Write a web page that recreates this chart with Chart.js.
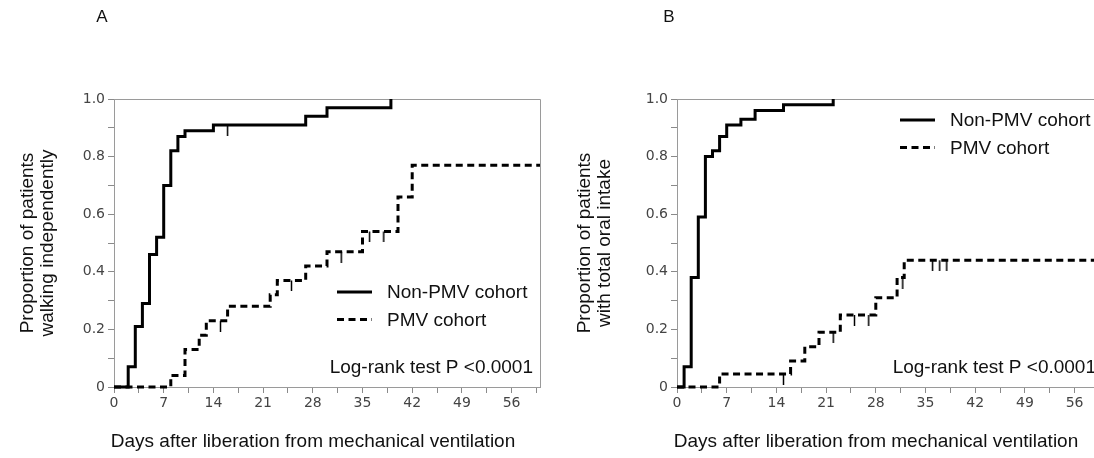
<!DOCTYPE html>
<html>
<head>
<meta charset="utf-8">
<script src="https://cdn.jsdelivr.net/npm/chart.js@4.4.1/dist/chart.umd.min.js"></script>
<style>
  html, body { margin: 0; padding: 0; background: #fff; overflow: hidden; }
  body { width: 1094px; height: 458px; position: relative; }
  canvas { position: absolute; top: 0; }
  #chartA { left: 0; }
  #chartB { left: 563px; }
</style>
</head>
<body>
<canvas id="chartA" width="547" height="458"></canvas>
<canvas id="chartB" width="547" height="458"></canvas>
<script>
// Panel A: walking independently
const aNonDays = [0, 2, 3, 4, 5, 6, 7, 8, 9, 10, 14, 27, 30, 39];
const aNonProp = [0, 0.07, 0.21, 0.29, 0.46, 0.52, 0.70, 0.82, 0.87, 0.89, 0.91, 0.94, 0.97, 1.0];
const aNonCensDays = [16];
const aNonCensProp = [0.91];
const aPmvDays = [0, 8, 10, 12, 13, 16, 22, 23, 27, 30, 35, 40, 42, 60];
const aPmvProp = [0, 0.04, 0.13, 0.18, 0.23, 0.28, 0.32, 0.37, 0.42, 0.47, 0.54, 0.66, 0.77, 0.77];
const aPmvCensDays = [15, 25, 32, 36, 38];
const aPmvCensProp = [0.23, 0.37, 0.47, 0.54, 0.54];

// Panel B: total oral intake
const bNonDays = [0, 1, 2, 3, 4, 5, 6, 7, 9, 11, 15, 22];
const bNonProp = [0, 0.07, 0.38, 0.59, 0.80, 0.82, 0.87, 0.91, 0.93, 0.96, 0.98, 1.0];
const bNonCensDays = [];
const bNonCensProp = [];
const bPmvDays = [0, 6, 16, 18, 20, 23, 28, 31, 32, 60];
const bPmvProp = [0, 0.045, 0.09, 0.14, 0.19, 0.25, 0.31, 0.38, 0.44, 0.44];
const bPmvCensDays = [15, 22, 25, 27, 31.8, 36, 37, 38];
const bPmvCensProp = [0.045, 0.19, 0.25, 0.25, 0.38, 0.44, 0.44, 0.44];

const seriesNames = ['Non-PMV cohort', 'PMV cohort'];
const xTitle = 'Days after liberation from mechanical ventilation';
const logRank = 'Log-rank test P <0.0001';

const SANS = '"Liberation Sans", Arial, sans-serif';
const PMV_DASH = [7, 4.5];

// small vertical tick used as censor mark, hangs below the point
const censorMark = document.createElement('canvas');
censorMark.width = 3;
censorMark.height = 22;
{
  const c = censorMark.getContext('2d');
  c.strokeStyle = '#000';
  c.lineWidth = 1.5;
  c.beginPath();
  c.moveTo(1.5, 11);
  c.lineTo(1.5, 22);
  c.stroke();
}

function pts(days, props) {
  return days.map((d, i) => ({x: d, y: props[i]}));
}

// frame, panel letter, x title, legend and log-rank text
const kmDecor = {
  id: 'kmDecor',
  beforeDatasetsDraw(chart) {
    const {ctx, chartArea: a} = chart;
    ctx.save();
    ctx.strokeStyle = '#9a9a9a';
    ctx.lineWidth = 1;
    ctx.beginPath();
    ctx.moveTo(a.left, a.top + 0.5);
    ctx.lineTo(a.right + 0.5, a.top + 0.5);
    ctx.lineTo(a.right + 0.5, a.bottom);
    ctx.stroke();
    ctx.restore();
  },
  afterDraw(chart, args, o) {
    const {ctx, chartArea: a} = chart;
    ctx.save();
    ctx.fillStyle = '#111';
    ctx.textBaseline = 'middle';

    ctx.font = '17px ' + SANS;
    ctx.textAlign = 'center';
    ctx.fillText(o.letter, a.left - o.letterOffset, a.top - 82);

    ctx.font = '19px ' + SANS;
    ctx.fillText(xTitle, a.left + 199, a.bottom + 55);

    // legend
    const ds = chart.data.datasets;
    [0, 1].forEach((k) => {
      const y = a.top + o.legendTop + k * 27.5;
      ctx.save();
      ctx.strokeStyle = '#000';
      ctx.lineWidth = ds[k].borderWidth;
      ctx.setLineDash(ds[k].borderDash || []);
      ctx.beginPath();
      ctx.moveTo(a.right - 203, y);
      ctx.lineTo(a.right - 168, y);
      ctx.stroke();
      ctx.restore();
      ctx.textAlign = 'left';
      ctx.fillText(ds[k].label, a.right - 153, y + 1);
    });

    ctx.textAlign = 'right';
    ctx.fillText(logRank, a.right - 7, a.bottom - 19);
    ctx.restore();
  }
};

function makeChart(el, cfg) {
  const datasets = [
    {label: seriesNames[0], data: pts(cfg.nonDays, cfg.nonProp),
     borderColor: '#000', borderWidth: 3, stepped: 'before', pointRadius: 0, clip: false},
    {label: seriesNames[1], data: pts(cfg.pmvDays, cfg.pmvProp),
     borderColor: '#000', borderWidth: 3, borderDash: PMV_DASH, stepped: 'before', pointRadius: 0, clip: false},
    {label: 'censored', data: pts(cfg.nonCensDays, cfg.nonCensProp), showLine: false,
     pointStyle: censorMark, pointRadius: 5, clip: false},
    {label: 'censored', data: pts(cfg.pmvCensDays, cfg.pmvCensProp), showLine: false,
     pointStyle: censorMark, pointRadius: 5, clip: false},
  ];
  return new Chart(el, {
    type: 'line',
    data: {datasets: datasets},
    options: {
      responsive: false,
      animation: false,
      devicePixelRatio: 1,
      layout: {autoPadding: false, padding: {top: 99, right: 7, left: 0, bottom: 0}},
      plugins: {
        legend: {display: false},
        tooltip: {enabled: false},
        kmDecor: cfg.decor,
      },
      scales: {
        x: {
          type: 'linear', min: 0, max: 60,
          afterFit: (s) => { s.height = 71; },
          border: {display: true, color: '#9a9a9a'},
          grid: {drawOnChartArea: false, tickLength: 6, tickColor: '#8a8a8a'},
          ticks: {
            stepSize: 3.5, includeBounds: false, autoSkip: false, maxRotation: 0, padding: 2,
            color: '#444', font: {family: '"DejaVu Sans", Verdana, sans-serif', size: 14},
            callback: (v) => (Math.round(v * 2) % 14 === 0 ? String(Math.round(v)) : ''),
          },
        },
        y: {
          type: 'linear', min: 0, max: 1,
          afterFit: (s) => { s.width = 114; },
          border: {display: true, color: '#9a9a9a'},
          grid: {drawOnChartArea: false, tickLength: 6, tickColor: '#8a8a8a'},
          ticks: {
            stepSize: 0.1, autoSkip: false, padding: 3,
            color: '#444', font: {family: '"DejaVu Sans", Verdana, sans-serif', size: 14},
            callback: (v) => {
              const i = Math.round(v * 10);
              if (i % 2) return '';
              return i === 0 ? '0' : (i / 10).toFixed(1);
            },
          },
          title: {
            display: true, text: cfg.yTitle, color: '#111',
            font: {family: SANS, size: 19, lineHeight: 1.05},
            padding: {top: cfg.yTitlePad, bottom: 0},
          },
        },
      },
    },
    plugins: [kmDecor],
  });
}

makeChart(document.getElementById('chartA'), {
  nonDays: aNonDays, nonProp: aNonProp, nonCensDays: aNonCensDays, nonCensProp: aNonCensProp,
  pmvDays: aPmvDays, pmvProp: aPmvProp, pmvCensDays: aPmvCensDays, pmvCensProp: aPmvCensProp,
  yTitle: ['Proportion of patients', 'walking independently'],
  yTitlePad: 18,
  decor: {letter: 'A', letterOffset: 12, legendTop: 193},
});

makeChart(document.getElementById('chartB'), {
  nonDays: bNonDays, nonProp: bNonProp, nonCensDays: bNonCensDays, nonCensProp: bNonCensProp,
  pmvDays: bPmvDays, pmvProp: bPmvProp, pmvCensDays: bPmvCensDays, pmvCensProp: bPmvCensProp,
  yTitle: ['Proportion of patients', 'with total oral intake'],
  yTitlePad: 12,
  decor: {letter: 'B', letterOffset: 8, legendTop: 21},
});
</script>
</body>
</html>
